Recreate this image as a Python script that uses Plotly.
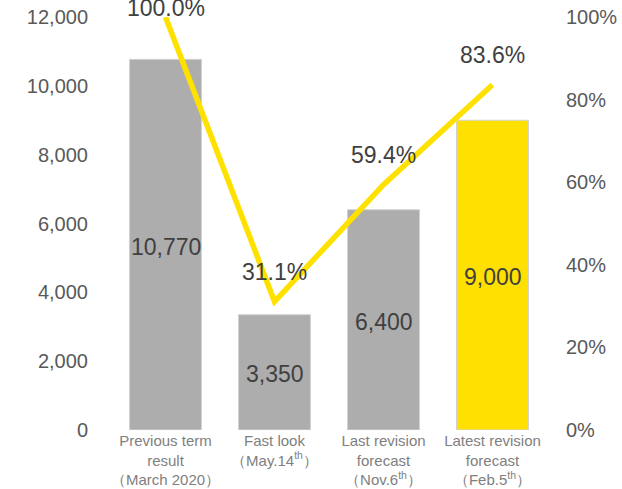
import plotly.graph_objects as go

categories = [
    "Previous term<br>result<br>（March 2020）",
    "Fast look<br>（May.14<sup>th</sup>）",
    "Last revision<br>forecast<br>（Nov.6<sup>th</sup>）",
    "Latest revision<br>forecast<br>（Feb.5<sup>th</sup>）",
]
values = [10770, 3350, 6400, 9000]
ratios = [100.0, 31.1, 59.4, 83.6]
bar_colors = ["#ADADAD", "#ADADAD", "#ADADAD", "#FFE000"]

FONT = "Arial, Liberation Sans, sans-serif"
LABEL_FONT = dict(size=23, color="#404040", family=FONT)
TICK_FONT = dict(size=20, color="#595959", family=FONT)

fig = go.Figure()
fig.add_trace(go.Bar(
    x=categories, y=values,
    marker=dict(color=bar_colors, line=dict(color="#D2D2D2", width=1)),
    width=0.66,
    yaxis="y",
))
# value labels are centred in each bar
for c, v in zip(categories, values):
    fig.add_annotation(
        x=c, y=v / 2, yref="y", text=f"{v:,}", showarrow=False,
        yshift=-2, font=LABEL_FONT,
    )

fig.add_trace(go.Scatter(
    x=categories, y=ratios, mode="lines",
    line=dict(color="#FFE100", width=5.5),
    yaxis="y2", cliponaxis=False,
))
for c, r in zip(categories, ratios):
    # keep the top label from running off the page
    shift = 30 if r < 95 else 9
    fig.add_annotation(
        x=c, y=r, yref="y2", text=f"{r:.1f}%", showarrow=False,
        yshift=shift, font=LABEL_FONT,
    )

fig.update_layout(
    width=622, height=489,
    margin=dict(l=111, r=75, t=17, b=59),
    plot_bgcolor="white", paper_bgcolor="white",
    showlegend=False,
    xaxis=dict(
        tickfont=dict(size=15, color="#808080", family=FONT),
        showline=False, ticks="", automargin=False,
    ),
    yaxis=dict(
        range=[0, 12000], dtick=2000, tickformat=",",
        showgrid=False, zeroline=False, automargin=False,
        tickfont=TICK_FONT, ticklabelstandoff=22,
    ),
    yaxis2=dict(
        range=[0, 100], dtick=20, ticksuffix="%",
        overlaying="y", side="right",
        showgrid=False, zeroline=False, automargin=False,
        tickfont=TICK_FONT, ticklabelstandoff=18,
    ),
)

fig.write_html("out.html")
